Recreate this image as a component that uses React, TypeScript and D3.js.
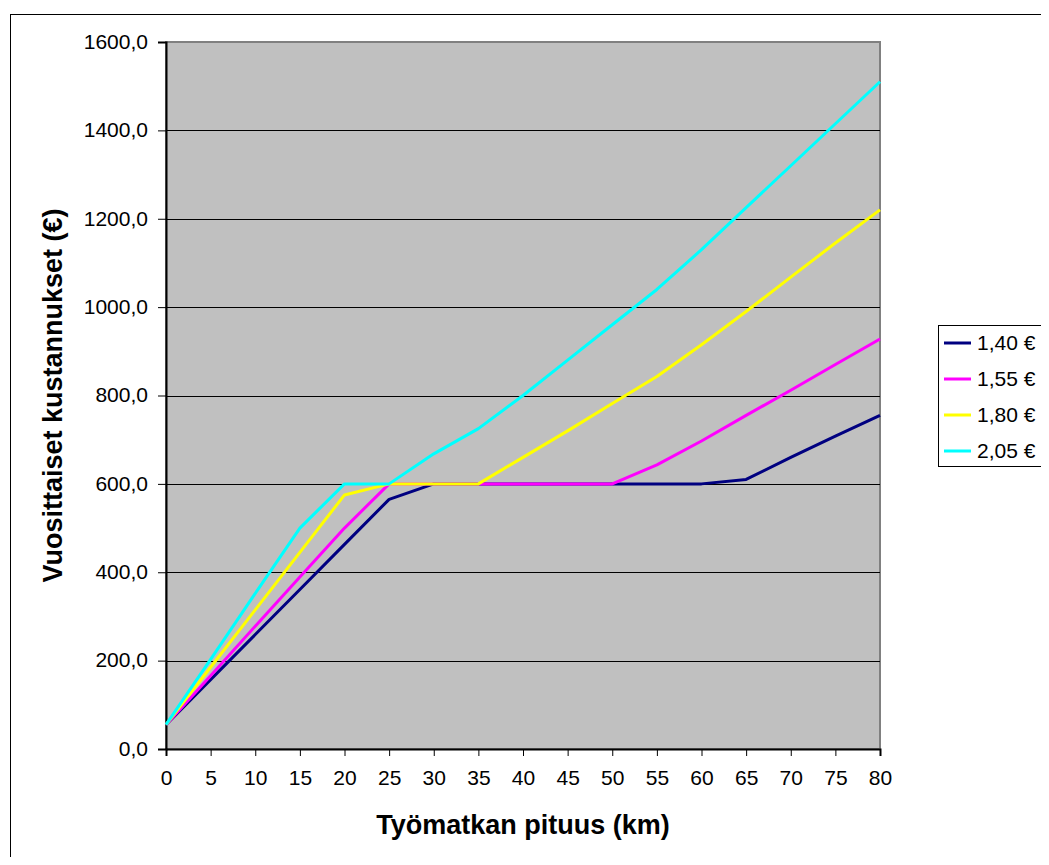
import { useEffect, useRef } from "react";
import * as d3 from "d3";

// distances (km)
const distances = [0, 5, 10, 15, 20, 25, 30, 35, 40, 45, 50, 55, 60, 65, 70, 75, 80];

// yearly costs per fuel price
const cost140 = [55, 157, 259, 361, 463, 565, 600, 600, 600, 600, 600, 600, 600, 610, 660, 708, 755];
const cost155 = [55, 166, 278, 389, 500, 600, 600, 600, 600, 600, 600, 643, 697, 755, 812, 870, 928];
const cost180 = [55, 185, 315, 445, 575, 600, 600, 600, 660, 720, 782, 843, 915, 990, 1068, 1145, 1220];
const cost205 = [55, 203, 352, 500, 600, 600, 668, 725, 800, 880, 960, 1040, 1130, 1225, 1320, 1415, 1510];

const seriesNames = ["1,40 €", "1,55 €", "1,80 €", "2,05 €"];
const seriesColors = ["#000080", "#FF00FF", "#FFFF00", "#00FFFF"];
const yTicks = [0, 200, 400, 600, 800, 1000, 1200, 1400, 1600];

const App = () => {
  const chartRef = useRef<HTMLDivElement>(null);

  useEffect(() => {
    const width = 1049;
    const height = 865;
    const plot = { left: 166, top: 42, right: 880, bottom: 749 };
    const font = "'Liberation Sans', Arial, sans-serif";

    const root = d3.select(chartRef.current);
    root.selectAll("*").remove();

    const svg = root
      .append("svg")
      .attr("width", width)
      .attr("height", height)
      .style("display", "block")
      .style("font-family", font);

    // outer chart border
    svg
      .append("rect")
      .attr("x", 10.5)
      .attr("y", 14.5)
      .attr("width", 1037)
      .attr("height", 849)
      .attr("fill", "#fff")
      .attr("stroke", "#000")
      .attr("stroke-width", 1);

    const xScale = d3.scaleLinear().domain([0, 80]).range([plot.left, plot.right]);
    const yScale = d3.scaleLinear().domain([0, 1600]).range([plot.bottom, plot.top]);

    // plot background
    svg
      .append("rect")
      .attr("x", plot.left)
      .attr("y", plot.top)
      .attr("width", plot.right - plot.left)
      .attr("height", plot.bottom - plot.top)
      .attr("fill", "#C0C0C0")
      .attr("stroke", "#808080")
      .attr("stroke-width", 2);

    // gridlines
    svg
      .append("g")
      .selectAll("line")
      .data(yTicks.slice(1, -1))
      .enter()
      .append("line")
      .attr("x1", plot.left)
      .attr("x2", plot.right)
      .attr("y1", (d) => Math.round(yScale(d)) + 0.5)
      .attr("y2", (d) => Math.round(yScale(d)) + 0.5)
      .attr("stroke", "#000")
      .attr("stroke-width", 1);

    // y axis
    const yAxis = d3
      .axisLeft(yScale)
      .tickValues(yTicks)
      .tickSize(8)
      .tickPadding(10)
      .tickFormat((d) => d3.format(".1f")(d as number).replace(".", ","));
    const gy = svg.append("g").attr("transform", `translate(${plot.left},0)`).call(yAxis);
    gy.select(".domain").attr("stroke", "#000").attr("stroke-width", 2);
    gy.selectAll("text")
      .style("font-size", "21px")
      .style("font-family", font)
      .attr("fill", "#000")
      .attr("dy", "0.3em");

    // x axis
    const xAxis = d3
      .axisBottom(xScale)
      .tickValues(distances)
      .tickSize(7)
      .tickPadding(14)
      .tickFormat((d) => String(d));
    const gx = svg.append("g").attr("transform", `translate(0,${plot.bottom})`).call(xAxis);
    gx.select(".domain").attr("stroke", "#000").attr("stroke-width", 2);
    gx.selectAll("text").style("font-size", "21px").style("font-family", font).attr("fill", "#000");

    // lines
    const allSeries = [cost140, cost155, cost180, cost205];
    const line = d3
      .line<number>()
      .x((_, i) => xScale(distances[i]))
      .y((d) => yScale(d));

    svg
      .append("g")
      .selectAll("path")
      .data(allSeries)
      .enter()
      .append("path")
      .attr("d", (d) => line(d))
      .attr("fill", "none")
      .attr("stroke", (_, i) => seriesColors[i])
      .attr("stroke-width", 3)
      .attr("stroke-linejoin", "round");

    // axis titles
    svg
      .append("text")
      .attr("x", (plot.left + plot.right) / 2)
      .attr("y", 834)
      .attr("text-anchor", "middle")
      .style("font-size", "27px")
      .style("font-weight", "bold")
      .text("Työmatkan pituus (km)");

    svg
      .append("text")
      .attr("transform", "rotate(-90)")
      .attr("x", -(plot.top + plot.bottom) / 2)
      .attr("y", 62)
      .attr("text-anchor", "middle")
      .style("font-size", "27px")
      .style("font-weight", "bold")
      .text("Vuosittaiset kustannukset (€)");

    // legend
    const legend = svg.append("g").attr("transform", "translate(938,325)");
    legend
      .append("rect")
      .attr("x", 0.5)
      .attr("y", 0.5)
      .attr("width", 104)
      .attr("height", 141)
      .attr("fill", "#fff")
      .attr("stroke", "#000");

    const items = legend
      .selectAll("g")
      .data(seriesNames)
      .enter()
      .append("g")
      .attr("transform", (_, i) => `translate(0,${18 + i * 36})`);
    items
      .append("line")
      .attr("x1", 6)
      .attr("x2", 33)
      .attr("stroke", (_, i) => seriesColors[i])
      .attr("stroke-width", 3);
    items
      .append("text")
      .attr("x", 39)
      .attr("dy", "0.35em")
      .style("font-size", "21px")
      .text((d) => d);

    return () => {
      // eslint-disable-next-line react-hooks/exhaustive-deps
      d3.select(chartRef.current).selectAll("*").remove();
    };
  }, []);

  return <div ref={chartRef} style={{ margin: -8 }}></div>;
};

export default App;
